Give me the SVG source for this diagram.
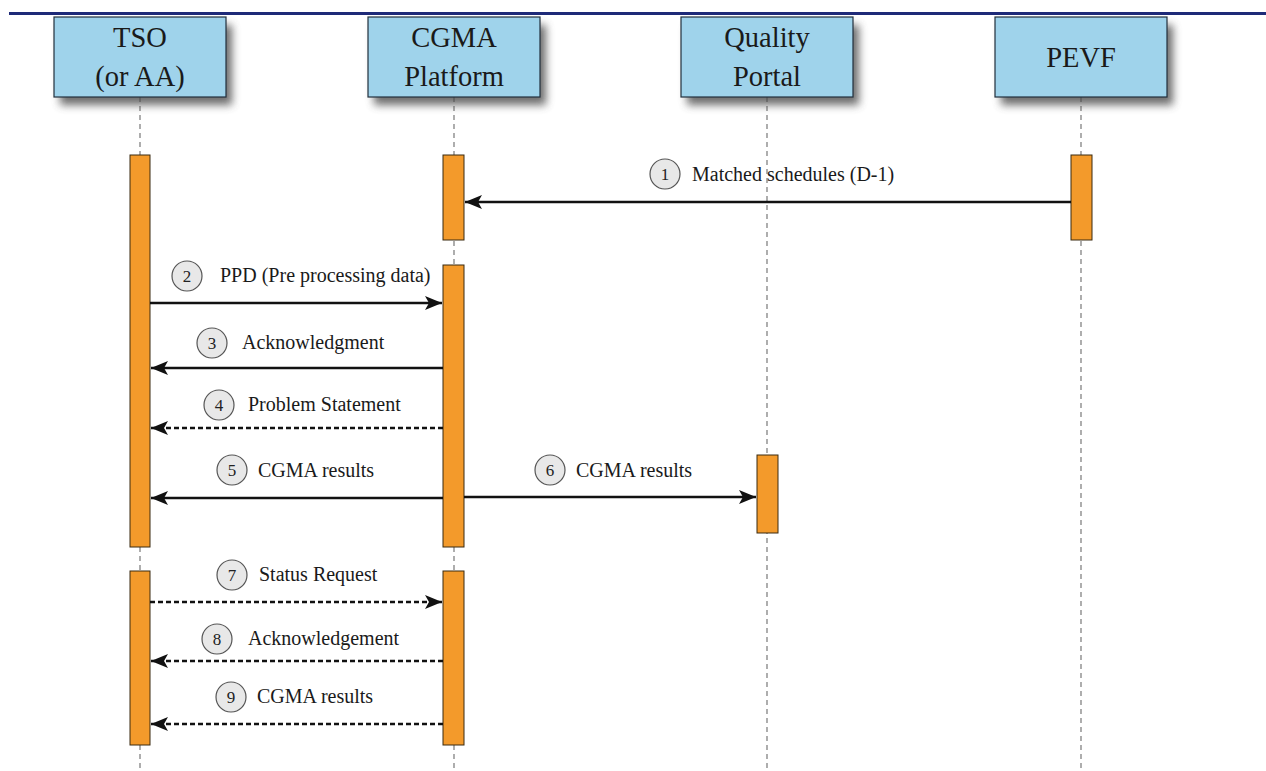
<svg xmlns="http://www.w3.org/2000/svg" width="1266" height="771" viewBox="0 0 1266 771">
<defs>
<filter id="sh" x="-20%" y="-20%" width="150%" height="160%">
<feGaussianBlur stdDeviation="4"/>
</filter>
<marker id="ah" markerUnits="userSpaceOnUse" markerWidth="18" markerHeight="14" viewBox="0 0 18 14" refX="17" refY="7" orient="auto">
<path d="M0,0 L17,7 L0,14 L4,7 z" fill="#111"/>
</marker>
</defs>
<style>
.box{fill:#9fd3eb;stroke:#22303c;stroke-width:1.2}
.shadow{fill:#4a4a4a;opacity:0.8}
.title{font-family:"Liberation Serif","Times New Roman",serif;font-size:28.5px;fill:#1a1a1a;text-anchor:middle}
.life{stroke:#9a9a9a;stroke-width:1.6;stroke-dasharray:5 4;fill:none}
.bar{fill:#f39a2b;stroke:#3a2a10;stroke-width:1}
.msg{stroke:#111;stroke-width:2.6;fill:none;marker-end:url(#ah)}
.dash{stroke-dasharray:5 3}
.num{fill:#e8e8e8;stroke:#555;stroke-width:1.2}
.numt{font-family:"Liberation Serif","Times New Roman",serif;font-size:17px;fill:#222;text-anchor:middle}
.lbl{font-family:"Liberation Serif","Times New Roman",serif;font-size:20px;fill:#1a1a1a}
</style>
<rect width="1266" height="771" fill="#ffffff"/>
<line x1="9" y1="13.5" x2="1266" y2="13.5" stroke="#1e2a78" stroke-width="3"/>

<g id="lifelines">
<line class="life" x1="140" y1="97" x2="140" y2="771"/>
<line class="life" x1="454" y1="97" x2="454" y2="771"/>
<line class="life" x1="767" y1="97" x2="767" y2="771"/>
<line class="life" x1="1081" y1="97" x2="1081" y2="771"/>
</g>

<g id="tso">
<rect class="shadow" x="60" y="25" width="172" height="80" filter="url(#sh)"/>
<rect class="box" x="54" y="17" width="172" height="80"/>
<text class="title" x="140" y="47">TSO</text>
<text class="title" x="140" y="86">(or AA)</text>
</g>
<g id="cgma">
<rect class="shadow" x="374" y="25" width="172" height="80" filter="url(#sh)"/>
<rect class="box" x="368" y="17" width="172" height="80"/>
<text class="title" x="454" y="47">CGMA</text>
<text class="title" x="454" y="86">Platform</text>
</g>
<g id="quality">
<rect class="shadow" x="687" y="25" width="172" height="80" filter="url(#sh)"/>
<rect class="box" x="681" y="17" width="172" height="80"/>
<text class="title" x="767" y="47">Quality</text>
<text class="title" x="767" y="86">Portal</text>
</g>
<g id="pevf">
<rect class="shadow" x="1001" y="25" width="172" height="80" filter="url(#sh)"/>
<rect class="box" x="995" y="17" width="172" height="80"/>
<text class="title" x="1081" y="67">PEVF</text>
</g>

<g id="activations">
<rect class="bar" x="130" y="155" width="20" height="392"/>
<rect class="bar" x="130" y="571" width="20" height="174"/>
<rect class="bar" x="443" y="155" width="21" height="85"/>
<rect class="bar" x="443" y="265" width="21" height="282"/>
<rect class="bar" x="443" y="571" width="21" height="174"/>
<rect class="bar" x="757" y="455" width="21" height="78"/>
<rect class="bar" x="1071" y="155" width="21" height="85"/>
</g>

<g id="connectors">
<line class="msg" x1="1071" y1="202" x2="465" y2="202"/>
<line class="msg" x1="150" y1="303" x2="442" y2="303"/>
<line class="msg" x1="443" y1="368" x2="151" y2="368"/>
<line class="msg dash" x1="443" y1="428" x2="151" y2="428"/>
<line class="msg" x1="443" y1="498" x2="151" y2="498"/>
<line class="msg" x1="464" y1="497" x2="756" y2="497"/>
<line class="msg dash" x1="150" y1="602" x2="442" y2="602"/>
<line class="msg dash" x1="443" y1="661" x2="151" y2="661"/>
<line class="msg dash" x1="443" y1="724" x2="151" y2="724"/>
</g>

<g id="labels">
<circle class="num" cx="665" cy="174" r="15"/><text class="numt" x="665" y="180">1</text>
<text class="lbl" x="692" y="181">Matched schedules (D-1)</text>
<circle class="num" cx="187" cy="276" r="15"/><text class="numt" x="187" y="282">2</text>
<text class="lbl" x="220" y="282">PPD (Pre processing data)</text>
<circle class="num" cx="212" cy="343" r="15"/><text class="numt" x="212" y="349">3</text>
<text class="lbl" x="242" y="349">Acknowledgment</text>
<circle class="num" cx="219" cy="405" r="15"/><text class="numt" x="219" y="411">4</text>
<text class="lbl" x="248" y="411">Problem Statement</text>
<circle class="num" cx="232" cy="470" r="15"/><text class="numt" x="232" y="476">5</text>
<text class="lbl" x="258" y="477">CGMA results</text>
<circle class="num" cx="550" cy="470" r="15"/><text class="numt" x="550" y="476">6</text>
<text class="lbl" x="576" y="477">CGMA results</text>
<circle class="num" cx="232" cy="575" r="15"/><text class="numt" x="232" y="581">7</text>
<text class="lbl" x="259" y="581">Status Request</text>
<circle class="num" cx="217" cy="639" r="15"/><text class="numt" x="217" y="645">8</text>
<text class="lbl" x="248" y="645">Acknowledgement</text>
<circle class="num" cx="231" cy="697" r="15"/><text class="numt" x="231" y="703">9</text>
<text class="lbl" x="257" y="703">CGMA results</text>
</g>
</svg>
